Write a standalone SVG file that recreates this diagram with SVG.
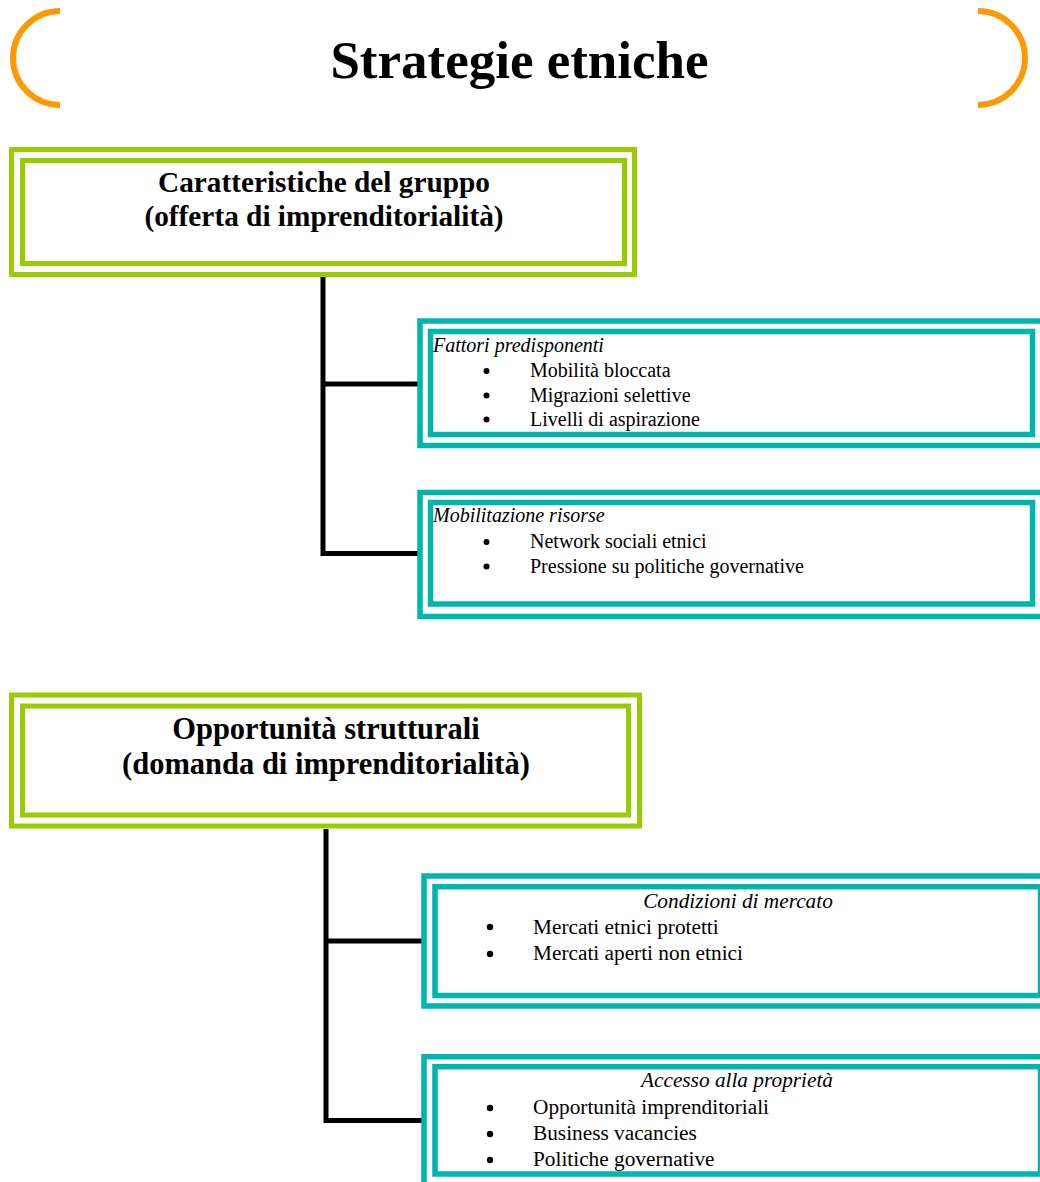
<svg xmlns="http://www.w3.org/2000/svg" width="1040" height="1182" viewBox="0 0 1040 1182">
<style>
.bg{fill:#ffffff}
.br{fill:none;stroke:#FF9900;stroke-width:6}
.g{fill:none;stroke:#99CC00;stroke-width:5}
.t{fill:none;stroke:#00B4B0;stroke-width:5.5}
.ln{fill:none;stroke:#000;stroke-width:5;stroke-linejoin:miter}
text{font-family:"Liberation Serif","Times New Roman",serif;fill:#000}
.title{font-size:53px;font-weight:bold;text-anchor:middle}
.h1{font-size:29.3px;font-weight:bold;text-anchor:middle}
.h2{font-size:30.5px;font-weight:bold;text-anchor:middle}
.it{font-size:20px;font-style:italic}
.tx{font-size:20px}
.it2{font-size:21.3px;font-style:italic;text-anchor:middle}
.tx2{font-size:21.3px}
.dot{fill:#000}
</style>
<rect class="bg" x="0" y="0" width="1040" height="1182"/>
<g id="title">
<path class="br" d="M60,11 A47,47 0 0 0 60,105"/>
<path class="br" d="M978,11 A47,47 0 0 1 978,105"/>
<text class="title" x="519.5" y="78">Strategie etniche</text>
</g>
<g id="connectors">
<path class="ln" d="M323,277 V553.5 H418"/>
<path class="ln" d="M323,384 H418"/>
<path class="ln" d="M326,829 V1120.5 H422"/>
<path class="ln" d="M326,941 H422"/>
</g>
<g id="gruppo">
<rect class="g" x="11.5" y="149.5" width="623" height="125"/>
<rect class="g" x="22.5" y="160.5" width="602" height="103"/>
<text class="h1" x="324" y="192">Caratteristiche del gruppo</text>
<text class="h1" x="324" y="226">(offerta di imprenditorialità)</text>
</g>
<g id="fattori">
<rect class="t" x="420" y="321" width="626" height="124.5"/>
<rect class="t" x="430.5" y="331.5" width="602" height="103"/>
<text class="it" x="433" y="352">Fattori predisponenti</text>
<circle class="dot" cx="486.5" cy="371" r="3"/>
<circle class="dot" cx="486.5" cy="395.5" r="3"/>
<circle class="dot" cx="486.5" cy="419.5" r="3"/>
<text class="tx" x="530" y="377">Mobilità bloccata</text>
<text class="tx" x="530" y="401.5">Migrazioni selettive</text>
<text class="tx" x="530" y="425.5">Livelli di aspirazione</text>
</g>
<g id="mobilitazione">
<rect class="t" x="420" y="492.5" width="626" height="124"/>
<rect class="t" x="430.5" y="502.5" width="602" height="101.5"/>
<text class="it" x="433" y="522">Mobilitazione risorse</text>
<circle class="dot" cx="486.5" cy="542" r="3"/>
<circle class="dot" cx="486.5" cy="566.5" r="3"/>
<text class="tx" x="530" y="548">Network sociali etnici</text>
<text class="tx" x="530" y="573">Pressione su politiche governative</text>
</g>
<g id="opportunita">
<rect class="g" x="11.5" y="695" width="628" height="131"/>
<rect class="g" x="22.5" y="706" width="606" height="109"/>
<text class="h2" x="326" y="739">Opportunità strutturali</text>
<text class="h2" x="326" y="774">(domanda di imprenditorialità)</text>
</g>
<g id="condizioni">
<rect class="t" x="424" y="876" width="628" height="130"/>
<rect class="t" x="435" y="886.7" width="605.5" height="108.8"/>
<text class="it2" x="738" y="908">Condizioni di mercato</text>
<circle class="dot" cx="490" cy="927" r="3.2"/>
<circle class="dot" cx="490" cy="954" r="3.2"/>
<text class="tx2" x="533" y="933.5">Mercati etnici protetti</text>
<text class="tx2" x="533" y="960">Mercati aperti non etnici</text>
</g>
<g id="accesso">
<rect class="t" x="424" y="1056.7" width="628" height="130"/>
<rect class="t" x="435" y="1066.7" width="605.5" height="107.3"/>
<text class="it2" x="737" y="1087">Accesso alla proprietà</text>
<circle class="dot" cx="490" cy="1108" r="3.2"/>
<circle class="dot" cx="490" cy="1134" r="3.2"/>
<circle class="dot" cx="490" cy="1160" r="3.2"/>
<text class="tx2" x="533" y="1114">Opportunità imprenditoriali</text>
<text class="tx2" x="533" y="1140">Business vacancies</text>
<text class="tx2" x="533" y="1166">Politiche governative</text>
</g>
</svg>
